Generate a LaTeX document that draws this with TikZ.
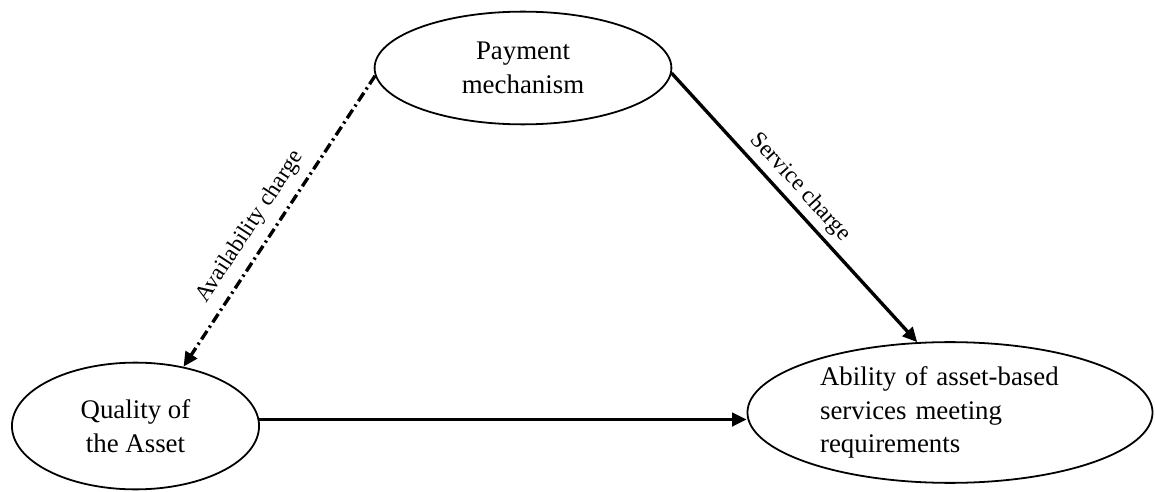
\documentclass[tikz,border=0pt]{standalone}
\usepackage{fontspec}
\setmainfont{Liberation Serif}
\usetikzlibrary{arrows.meta,positioning,shapes.geometric}

\begin{document}
\begin{tikzpicture}[x=0.0157cm,y=-0.0157cm,
        ellsty/.style={
            draw, ellipse, inner sep=0pt, line width=0.8pt,
            font=\fontsize{12}{15}\selectfont, align=center,
        },
        arrsty/.style={
            -{Triangle[length=6.5pt,width=6pt]}, line width=1.5pt,
        },
        dashsty/.style={
            dash pattern=on 4.5pt off 1.8pt on 1pt off 1.8pt
        },
        labsty/.style={
            sloped, above, font=\fontsize{10.4}{12}\selectfont
        }
    ]
    \useasboundingbox (0,0) rectangle (1155,492);

    \node[ellsty, minimum width=4.66cm, minimum height=1.77cm] at (523,68) (pay) {Payment\\mechanism};
    \node[ellsty, minimum width=3.88cm, minimum height=1.99cm] at (135.5,426) (qual) {Quality of\\the Asset};
    \node[ellsty, minimum width=6.36cm, minimum height=2.21cm, align=left, text width=4.08cm] at (950,412.5) (abl) {Ability of asset-based\\services meeting\\requirements};

    \draw[arrsty,dashsty] (pay.183) -- node[labsty, pos=0.56, inner sep=4pt] {Availability charge} (qual.51);
    \draw[arrsty] (pay.-2) -- node[labsty, pos=0.47, inner sep=2.5pt] {Service charge} (abl.115);
    \draw[arrsty] (qual.3) -- (qual.3 -| abl.west);

\end{tikzpicture}
\end{document}
